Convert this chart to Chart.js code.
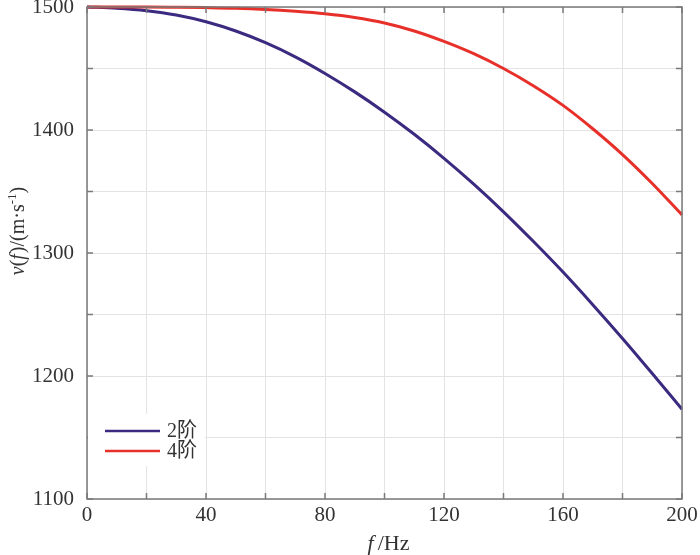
<!DOCTYPE html>
<html>
<head>
<meta charset="utf-8">
<script src="https://cdn.jsdelivr.net/npm/chart.js@4"></script>
<style>
  html, body { margin: 0; padding: 0; background: #fff; }
  #wrap { width: 700px; height: 555px; }
</style>
</head>
<body>
<div id="wrap"><canvas id="chart" width="700" height="555"></canvas></div>
<script>
// =======================
// Data
// =======================
const freqs = [0, 10, 20, 30, 40, 50, 60, 70, 80, 90, 100, 110, 120, 130, 140, 150, 160, 170, 180, 190, 200];
const order2 = [1500, 1499, 1497, 1493.5, 1488, 1480.5, 1471, 1459.5, 1446, 1431, 1414.5, 1396.5, 1377, 1356, 1333.5, 1309.5, 1284.5, 1258, 1230.5, 1202, 1173];
const order4 = [1500, 1500, 1500, 1499.8, 1499.5, 1499, 1498, 1496.5, 1494.5, 1491.5, 1487, 1480.5, 1472, 1462, 1450, 1436, 1420, 1401, 1380, 1356.5, 1331];
const seriesNames = ["2阶", "4阶"];
const seriesColors = ["#3b2a80", "#e8302a"];

const xTicks = [0, 40, 80, 120, 160, 200];
const yTicks = [1100, 1200, 1300, 1400, 1500];

const serif = "'Liberation Serif', 'Times New Roman', serif";
const cjk = "'Liberation Serif', 'Noto Sans CJK SC', serif";

function toPoints(ys) {
  return freqs.map((f, i) => ({ x: f, y: ys[i] }));
}

// =======================
// Box, inward ticks, axis titles, legend
// =======================
function drawRich(ctx, parts, x, y, size) {
  // parts: [text, italic, sup, extra gap after]
  const fontOf = p => (p[1] ? "italic " : "") + (p[2] ? size * 0.65 : size) + "px " + serif;
  let total = 0;
  parts.forEach(p => {
    ctx.font = fontOf(p);
    total += ctx.measureText(p[0]).width + (p[3] || 0);
  });
  let cx = x - total / 2;
  parts.forEach(p => {
    ctx.font = fontOf(p);
    ctx.fillText(p[0], cx, p[2] ? y - size * 0.42 : y);
    cx += ctx.measureText(p[0]).width + (p[3] || 0);
  });
}

const framePlugin = {
  id: "frame",
  afterDraw(chart) {
    const { ctx, chartArea: a, scales } = chart;
    ctx.save();
    // box
    ctx.strokeStyle = "#7a7a7a";
    ctx.lineWidth = 1.5;
    ctx.strokeRect(a.left, a.top, a.right - a.left, a.bottom - a.top);
    // inward ticks
    ctx.beginPath();
    for (let v = 0; v <= 200; v += 20) {
      const px = scales.x.getPixelForValue(v);
      ctx.moveTo(px, a.bottom); ctx.lineTo(px, a.bottom - 6);
      ctx.moveTo(px, a.top); ctx.lineTo(px, a.top + 6);
    }
    for (let v = 1100; v <= 1500; v += 50) {
      const py = scales.y.getPixelForValue(v);
      ctx.moveTo(a.left, py); ctx.lineTo(a.left + 6, py);
      ctx.moveTo(a.right, py); ctx.lineTo(a.right - 6, py);
    }
    ctx.stroke();

    // axis titles
    ctx.fillStyle = "#333";
    ctx.textBaseline = "alphabetic";
    ctx.textAlign = "left";
    drawRich(ctx, [["f", true, false, 4], ["/Hz", false]], (a.left + a.right) / 2 + 4, 550, 22);
    ctx.save();
    ctx.translate(24, 231);
    ctx.rotate(-Math.PI / 2);
    drawRich(ctx, [["v", true], ["(", false], ["f", true, false, 1], [")/(m·s", false], ["-1", false, true], [")", false]], 0, 0, 20);
    ctx.restore();

    // legend
    ctx.fillStyle = "#fff";
    ctx.fillRect(a.left + 1, 414, 117, 52);
    chart.data.datasets.forEach((ds, i) => {
      const y = 431 + i * 20;
      ctx.strokeStyle = ds.borderColor;
      ctx.lineWidth = 2.5;
      ctx.beginPath();
      ctx.moveTo(105, y); ctx.lineTo(160, y);
      ctx.stroke();
      ctx.fillStyle = "#333";
      ctx.font = "20px " + cjk;
      ctx.textBaseline = "middle";
      ctx.fillText(ds.label, 167, y + 1);
    });
    ctx.restore();
  }
};

// =======================
// Chart
// =======================
new Chart(document.getElementById("chart").getContext("2d"), {
  type: "line",
  data: {
    datasets: [
      { label: seriesNames[0], data: toPoints(order2), borderColor: seriesColors[0], order: 1 },
      { label: seriesNames[1], data: toPoints(order4), borderColor: seriesColors[1], order: 0 }
    ]
  },
  options: {
    responsive: false,
    animation: false,
    layout: { padding: { left: 0, right: 18, top: 7, bottom: 0 } },
    elements: {
      line: { borderWidth: 3, cubicInterpolationMode: "monotone", fill: false },
      point: { radius: 0 }
    },
    datasets: { line: { clip: 4 } },
    plugins: { legend: { display: false }, tooltip: { enabled: false } },
    scales: {
      x: {
        type: "linear",
        min: 0, max: 200,
        ticks: {
          stepSize: 20,
          autoSkip: false,
          maxRotation: 0,
          padding: 4,
          color: "#333",
          font: { family: serif, size: 21 },
          callback: v => xTicks.includes(v) ? String(v) : ""
        },
        grid: { color: "#e3e3e3", lineWidth: 1, drawTicks: false },
        border: { display: false },
        afterFit: s => { s.height = 56; s.paddingLeft = 0; s.paddingRight = 0; }
      },
      y: {
        min: 1100, max: 1500,
        ticks: {
          stepSize: 50,
          autoSkip: false,
          padding: 13,
          color: "#333",
          font: { family: serif, size: 21 },
          callback: v => yTicks.includes(v) ? String(v) : ""
        },
        grid: { color: "#e3e3e3", lineWidth: 1, drawTicks: false },
        border: { display: false },
        afterFit: s => { s.width = 87; s.paddingTop = 0; s.paddingBottom = 0; }
      }
    }
  },
  plugins: [framePlugin]
});
</script>
</body>
</html>
